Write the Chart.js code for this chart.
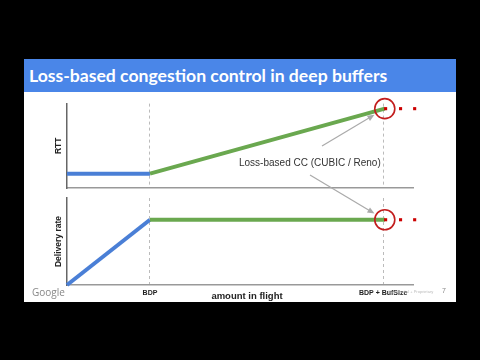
<!DOCTYPE html>
<html>
<head>
<meta charset="utf-8">
<script src="https://cdn.jsdelivr.net/npm/chart.js@4/dist/chart.umd.min.js"></script>
<style>
  html, body { margin: 0; padding: 0; background: #000; }
  #page { position: relative; width: 480px; height: 360px; background: #000; overflow: hidden; font-family: "Liberation Sans", sans-serif; }
  #slide { position: absolute; left: 24px; top: 59px; width: 432px; height: 243px; background: #fff; }
  #bar { position: absolute; left: 24px; top: 59px; width: 432px; height: 33px; background: #4a86e8; }
  #bar div { position: absolute; left: 5px; top: 6px; font: bold 17.6px Lato, sans-serif; color: #fff; white-space: nowrap; }
  canvas { position: absolute; left: 24px; top: 92px; }
  .txt { position: absolute; white-space: nowrap; }
</style>
</head>
<body>
<div id="page">
  <div id="slide"></div>
  <div id="bar"><div>Loss-based congestion control in deep buffers</div></div>
  <canvas id="rtt" width="432" height="210"></canvas>
  <canvas id="rate" width="432" height="210"></canvas>
  <div class="txt" style="left:239px; top:157px; font:10px 'Liberation Sans'; color:#333;">Loss-based CC (CUBIC / Reno)</div>
  <div class="txt" style="left:187px; width:120px; text-align:center; top:290px; font:bold 9.5px 'Liberation Sans'; color:#222;">amount in flight</div>
  <div class="txt" style="left:32px; top:285px; font:10px 'Open Sans'; color:#888;">Google</div>
  <div class="txt" style="left:388px; top:289px; font:4px 'Liberation Sans'; color:#bbb;">Confidential + Proprietary</div>
  <div class="txt" style="left:442px; top:287px; font:7px 'Liberation Sans'; color:#888;">7</div>
</div>
<script>
// amount in flight: 0, BDP, BDP + BufSize
const amountInFlight = [0, 1, 3.83];
const rttValues = [0.17, 0.17, 0.94];
const deliveryValues = [0, 0.75, 0.75];
const tickValues = [1, 3.81];
const tickLabels = ['BDP', 'BDP + BufSize'];
const lossDotsX = [3.84, 4.02, 4.19];
const xMax = 4.17;

const BLUE = '#4a7fd6';
const GREEN = '#6aa84f';
const RED = '#cc0000';

Chart.defaults.font.family = "'Liberation Sans Narrow', 'Liberation Sans', sans-serif";

function puntos(ys, desde, hasta) {
  const res = [];
  for (let i = desde; i <= hasta; i++) res.push({ x: amountInFlight[i], y: ys[i] });
  return res;
}

function arrowPlugin(sx, sy) {
  return {
    id: 'arrow',
    afterDatasetsDraw(chart) {
      const { ctx, scales } = chart;
      const ys = chart.config.options.valores;
      const cx = scales.x.getPixelForValue(amountInFlight[2]);
      const cy = scales.y.getPixelForValue(ys[2]);
      const ang = Math.atan2(cy - sy, cx - sx);
      const ex = cx - Math.cos(ang) * 12;
      const ey = cy - Math.sin(ang) * 12;
      ctx.save();
      ctx.strokeStyle = '#aaa';
      ctx.fillStyle = '#aaa';
      ctx.lineWidth = 1.2;
      ctx.beginPath();
      ctx.moveTo(sx, sy);
      ctx.lineTo(ex - Math.cos(ang) * 5, ey - Math.sin(ang) * 5);
      ctx.stroke();
      ctx.beginPath();
      ctx.moveTo(ex, ey);
      ctx.lineTo(ex - Math.cos(ang) * 7 + Math.sin(ang) * 3, ey - Math.sin(ang) * 7 - Math.cos(ang) * 3);
      ctx.lineTo(ex - Math.cos(ang) * 7 - Math.sin(ang) * 3, ey - Math.sin(ang) * 7 + Math.cos(ang) * 3);
      ctx.closePath();
      ctx.fill();
      ctx.restore();
    }
  };
}

function crearGrafico(id, ys, titulo, tituloSize, padding, conTicks, arrowStart) {
  const last = ys[ys.length - 1];
  return new Chart(document.getElementById(id), {
    type: 'line',
    data: {
      datasets: [
        {
          data: lossDotsX.map(x => ({ x, y: last })),
          showLine: false,
          pointStyle: 'rect',
          pointRadius: 2.2,
          pointBorderWidth: 0,
          pointBackgroundColor: RED,
          clip: false,
        },
        {
          data: [{ x: amountInFlight[2], y: last }],
          showLine: false,
          pointRadius: 10,
          pointHoverRadius: 10,
          pointBorderColor: '#c21d1d',
          pointBorderWidth: 1.6,
          pointBackgroundColor: 'rgba(0,0,0,0)',
          clip: false,
        },
        {
          data: puntos(ys, 1, 2),
          borderColor: GREEN,
          borderWidth: 4,
          pointRadius: 0,
          clip: false,
        },
        {
          data: puntos(ys, 0, 1),
          borderColor: BLUE,
          borderWidth: 4,
          pointRadius: 0,
          clip: false,
        },
      ]
    },
    options: {
      valores: ys,
      responsive: false,
      animation: false,
      devicePixelRatio: 1,
      layout: { padding },
      plugins: { legend: { display: false }, tooltip: { enabled: false } },
      scales: {
        x: {
          type: 'linear',
          min: 0,
          max: xMax,
          afterBuildTicks: s => { s.ticks = tickValues.map(v => ({ value: v })); },
          afterFit: s => { s.height = conTicks ? 17 : 0; },
          ticks: {
            display: conTicks,
            autoSkip: false,
            maxRotation: 0,
            padding: 4,
            color: '#222',
            font: { size: 7, weight: 'bold' },
            callback: (v, i) => tickLabels[i],
          },
          grid: { color: '#bbb', lineWidth: 1, drawTicks: false },
          border: { display: true, color: '#999', width: 1.5, dash: [3, 3] },
        },
        y: {
          min: 0,
          max: 1,
          afterFit: s => { s.width = 43; },
          ticks: { display: false },
          grid: { display: false },
          border: { display: true, color: '#666', width: 1.5 },
          title: {
            display: true,
            text: titulo,
            color: '#222',
            font: { size: tituloSize, weight: 'bold' },
            padding: { top: 30, bottom: 0 },
          },
        },
      },
    },
    plugins: [arrowPlugin(arrowStart[0], arrowStart[1])],
  });
}

crearGrafico('rtt', rttValues, 'RTT', 8.5, { top: 8, right: 43, bottom: 114, left: 0 }, false, [298, 54]);
crearGrafico('rate', deliveryValues, 'Delivery rate', 8.5, { top: 106, right: 43, bottom: 0, left: 0 }, true, [286, 83]);
</script>
</body>
</html>
